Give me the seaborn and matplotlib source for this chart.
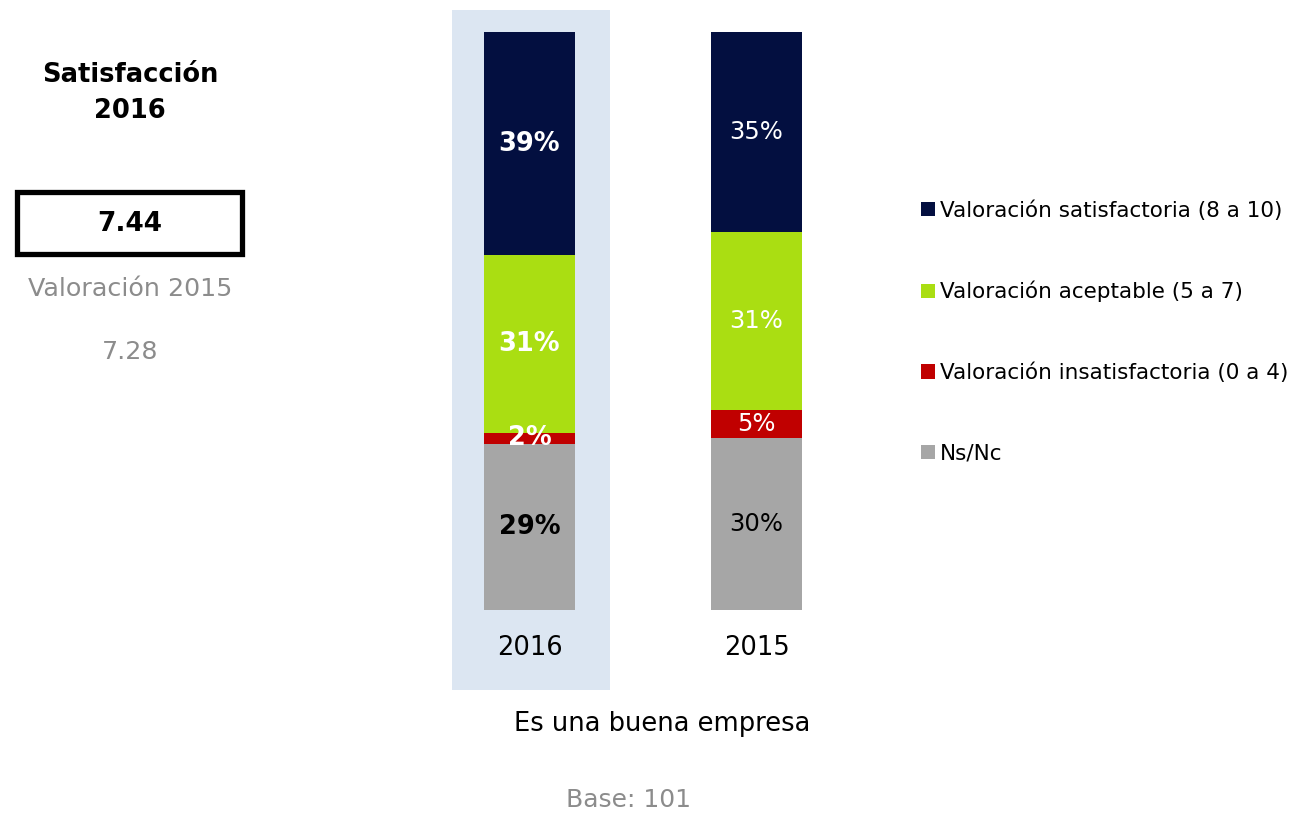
import matplotlib
matplotlib.use("Agg")
import matplotlib.pyplot as plt
from matplotlib.patches import Rectangle, Patch
import seaborn as sns
import pandas as pd
import numpy as np

# ---- data ----
years = ["2016", "2015"]
categories = ["Ns/Nc", "Valoración insatisfactoria (0 a 4)",
              "Valoración aceptable (5 a 7)", "Valoración satisfactoria (8 a 10)"]
ns_nc = [29, 30]
insatisf = [2, 5]
aceptable = [31, 31]
satisf = [39, 35]
colors = ["#A6A6A6", "#C00000", "#AADE12", "#030F40"]
title_text = "Es una buena empresa"
base_text = "Base: 101"
sat_title = "Satisfacción\n2016"
sat_value = "7.44"
prev_label = "Valoración 2015"
prev_value = "7.28"

W, H = 1292, 814
sns.set_theme(style="white")
plt.rcParams['font.family'] = ['DejaVu Sans']

fig = plt.figure(figsize=(W / 100, H / 100), dpi=100)

def fx(px):
    return px / W

def fy(py):
    return 1 - py / H

# axes: from px 380..900 horizontally, 10..610 vertically
ax = fig.add_axes([fx(380), fy(610), fx(900) - fx(380), fy(10) - fy(610)])

series = [ns_nc, insatisf, aceptable, satisf]
cum = np.cumsum(np.array(series), axis=0)  # shape (4, 2)

df = pd.DataFrame({"year": years})
# draw from top layer down so lower segments overlay
for i in range(len(series) - 1, -1, -1):
    df["v"] = cum[i]
    sns.barplot(data=df, x="year", y="v", order=years, color=colors[i],
                width=0.4, ax=ax, saturation=1, zorder=2, edgecolor="none")

px_per_unit_x = 227.0
x0px = 529.5
ax.set_xlim((380 - x0px) / px_per_unit_x, (900 - x0px) / px_per_unit_x)
px_per_pct = 578.0 / 101.0
ax.set_ylim(0, 600 / px_per_pct)

# highlight for 2016
hx0 = (452 - x0px) / px_per_unit_x
hx1 = (610 - x0px) / px_per_unit_x
ax.add_patch(Rectangle((hx0, -80 / px_per_pct), hx1 - hx0, 680 / px_per_pct,
                       facecolor="#DCE6F2", edgecolor="none", zorder=0, clip_on=False))

# segment labels
for j, yr in enumerate(years):
    bottoms = np.concatenate([[0], cum[:-1, j]])
    for i in range(len(series)):
        val = series[i][j]
        yc = bottoms[i] + val / 2
        col = "black" if i == 0 else "white"
        if j == 0:
            ax.text(j, yc, f"{val}%", ha="center", va="center", color=col,
                    fontsize=18.5, fontweight="bold", zorder=5)
        else:
            ax.text(j, yc, f"{val}%", ha="center", va="center", color=col,
                    fontsize=17.5, zorder=5)

ax.set_xlabel("")
ax.set_ylabel("")
ax.set_yticks([])
ax.set_xticks([0, 1])
ax.set_xticklabels(years, fontsize=18.5, color="black")
ax.tick_params(axis="x", length=0, pad=18)
for s in ax.spines.values():
    s.set_visible(False)
ax.patch.set_alpha(0)

# legend
handles = [Patch(facecolor=colors[i], edgecolor="none", label=categories[i])
           for i in range(len(categories) - 1, -1, -1)]
leg = fig.legend(handles=handles, loc="upper left",
                 bbox_to_anchor=(fx(921), fy(200)), frameon=False,
                 fontsize=15.5, handlelength=0.65, handleheight=0.65,
                 handletextpad=0.25, labelspacing=2.8, borderaxespad=0,
                 borderpad=0)
for t in leg.get_texts():
    t.set_color("black")

# bottom texts
fig.text(fx(662), fy(724), title_text, ha="center", va="center", fontsize=18.5, color="black")
fig.text(fx(628), fy(800), base_text, ha="center", va="center", fontsize=18, color="#8C8C8C")

# left panel
fig.text(fx(130), fy(93), sat_title, ha="center", va="center", fontsize=18.5,
         fontweight="bold", color="black", linespacing=1.45)
fig.patches.append(Rectangle((fx(17), fy(254)), fx(242) - fx(17), fy(192) - fy(254),
                             transform=fig.transFigure, facecolor="white",
                             edgecolor="black", linewidth=3.8))
fig.text(fx(130), fy(224), sat_value, ha="center", va="center", fontsize=19,
         fontweight="bold", color="black")
fig.text(fx(130), fy(289), prev_label, ha="center", va="center", fontsize=18.3,
         color="#8C8C8C")
fig.text(fx(130), fy(352), prev_value, ha="center", va="center", fontsize=18.3,
         color="#8C8C8C")

fig.savefig("out.png", dpi=100, facecolor="white")
